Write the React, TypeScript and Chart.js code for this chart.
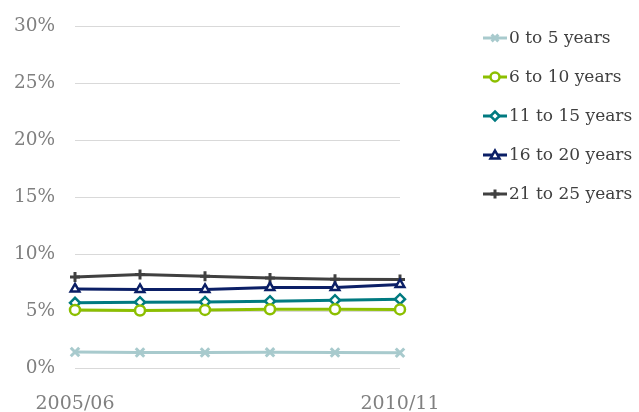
import React, { useEffect, useRef } from "react";
import { Chart, registerables } from "chart.js";

Chart.register(...registerables);

const categories = ["2005/06", "2006/07", "2007/08", "2008/09", "2009/10", "2010/11"];
const seriesNames = ["0 to 5 years", "6 to 10 years", "11 to 15 years", "16 to 20 years", "21 to 25 years"];
const age0to5 = [1.45, 1.4, 1.4, 1.42, 1.4, 1.38];
const age6to10 = [5.14, 5.09, 5.14, 5.2, 5.2, 5.18];
const age11to15 = [5.76, 5.82, 5.84, 5.9, 5.99, 6.08];
const age16to20 = [6.98, 6.93, 6.93, 7.1, 7.1, 7.37];
const age21to25 = [8.03, 8.24, 8.09, 7.94, 7.83, 7.8];
const yTicks = [0, 5, 10, 15, 20, 25, 30];

const colors = ["#A8CACD", "#8CBF00", "#007A80", "#0B1F66", "#404040"];
const styles = ["crossRot", "circle", "rectRot", "triangle", "cross"];
const FONT = "'DejaVu Serif', serif";

function drawMarker(ctx: CanvasRenderingContext2D, style: string, x: number, y: number, r: number, color: string) {
  ctx.save();
  ctx.strokeStyle = color;
  ctx.fillStyle = "#ffffff";
  ctx.lineWidth = 2.5;
  ctx.beginPath();
  if (style === "circle") {
    ctx.arc(x, y, r, 0, Math.PI * 2);
    ctx.fill();
    ctx.stroke();
  } else if (style === "rectRot") {
    ctx.moveTo(x, y - r);
    ctx.lineTo(x + r, y);
    ctx.lineTo(x, y + r);
    ctx.lineTo(x - r, y);
    ctx.closePath();
    ctx.fill();
    ctx.stroke();
  } else if (style === "triangle") {
    ctx.moveTo(x, y - r);
    ctx.lineTo(x + r, y + r * 0.8);
    ctx.lineTo(x - r, y + r * 0.8);
    ctx.closePath();
    ctx.fill();
    ctx.stroke();
  } else if (style === "cross") {
    ctx.lineWidth = 3;
    ctx.moveTo(x - r, y);
    ctx.lineTo(x + r, y);
    ctx.moveTo(x, y - r);
    ctx.lineTo(x, y + r);
    ctx.stroke();
  } else {
    ctx.lineWidth = 3;
    const d = r * 0.75;
    ctx.moveTo(x - d, y - d);
    ctx.lineTo(x + d, y + d);
    ctx.moveTo(x + d, y - d);
    ctx.lineTo(x - d, y + d);
    ctx.stroke();
  }
  ctx.restore();
}

const legendPlugin = {
  id: "customLegend",
  afterDraw(chart: any) {
    const ctx = chart.ctx as CanvasRenderingContext2D;
    chart.data.datasets.forEach((ds: any, i: number) => {
      const y = 38 + i * 39;
      ctx.save();
      ctx.strokeStyle = ds.borderColor;
      ctx.lineWidth = 3;
      ctx.beginPath();
      ctx.moveTo(483, y);
      ctx.lineTo(507, y);
      ctx.stroke();
      ctx.restore();
      drawMarker(ctx, ds.pointStyle, 495, y, 4.5, ds.borderColor);
      ctx.save();
      ctx.fillStyle = "#404040";
      ctx.font = `17px ${FONT}`;
      ctx.textAlign = "left";
      ctx.textBaseline = "middle";
      ctx.fillText(ds.label, 509, y + 1);
      ctx.restore();
    });
  },
};

export default function App() {
  const ref = useRef<HTMLCanvasElement | null>(null);
  useEffect(() => {
    document.body.style.margin = "0";
    const series = [age0to5, age6to10, age11to15, age16to20, age21to25];
    const chart = new Chart(ref.current as HTMLCanvasElement, {
      type: "line",
      data: {
        labels: categories,
        datasets: series.map((d, i) => ({
          label: seriesNames[i],
          data: d,
          borderColor: colors[i],
          backgroundColor: "#ffffff",
          pointBorderColor: colors[i],
          pointBackgroundColor: "#ffffff",
          pointStyle: styles[i] as any,
          pointRadius: i === 0 ? 6 : 5,
          pointBorderWidth: i === 0 || i === 4 ? 3 : 2.5,
          borderWidth: 3,
          tension: 0,
        })),
      },
      options: {
        animation: false,
        responsive: false,
        layout: { padding: { left: 14, right: 239, top: 26.5, bottom: 0 } },
        plugins: { legend: { display: false }, tooltip: { enabled: false } },
        scales: {
          x: {
            offset: false,
            grid: { display: false, drawTicks: false },
            border: { display: false },
            ticks: {
              autoSkip: false,
              maxRotation: 0,
              padding: 24,
              color: "#808080",
              font: { family: FONT, size: 19 },
              callback: (v: any, idx: number) => (idx === 0 || idx === categories.length - 1 ? categories[idx] : ""),
            },
            afterFit: (axis: any) => {
              axis.height = 43.5;
              axis.paddingLeft = 0;
              axis.paddingRight = 0;
            },
          },
          y: {
            min: 0,
            max: 30,
            afterBuildTicks: (axis: any) => {
              axis.ticks = yTicks.map((v) => ({ value: v }));
            },
            grid: { color: "#D9D9D9", lineWidth: 1, drawTicks: false },
            border: { display: false },
            ticks: {
              padding: 20,
              color: "#808080",
              font: { family: FONT, size: 18.5 },
              callback: (v: any) => `${v}%`,
            },
            afterFit: (axis: any) => {
              axis.width = 61;
              axis.paddingTop = 0;
              axis.paddingBottom = 0;
            },
          },
        },
      },
      plugins: [legendPlugin],
    });
    return () => chart.destroy();
  }, []);
  return <canvas ref={ref} width={639} height={412} style={{ display: "block" }} />;
}
